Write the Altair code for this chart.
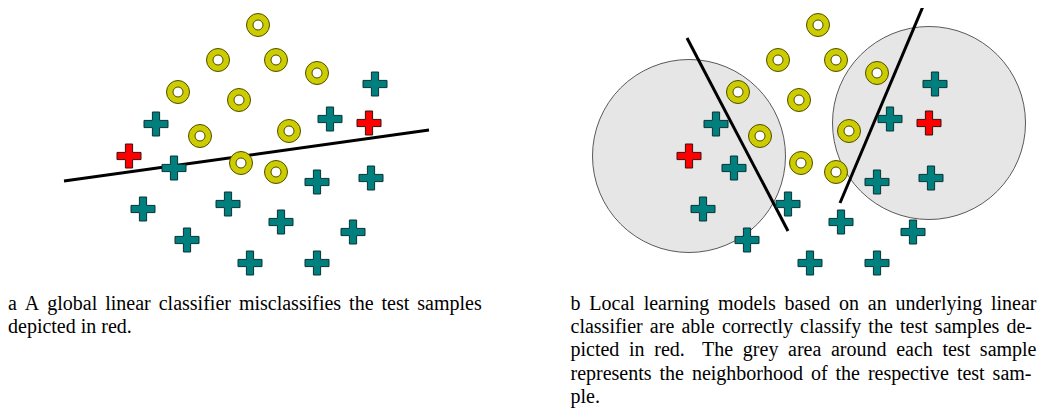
import altair as alt
import pandas as pd

# ---- data (panel a pixel frame) ----
ring_x = [258, 218, 276, 317, 178, 239, 200, 289, 241, 276]
ring_y = [25, 60, 60, 73, 92, 100, 136, 131, 163, 172]
plus_x = [375, 156, 330, 174, 317, 371, 143, 228, 281, 187, 353, 250, 317]
plus_y = [84, 124, 119, 168, 182, 178, 209, 204, 222, 240, 232, 263, 263]
test_x = [129, 369]
test_y = [156, 123]
panel_offset = {"a": 0, "b": 560}

# global linear classifier (panel a)
global_x = [64, 429]
global_y = [181, 130]
# local linear classifiers (panel b)
local_id = ["left", "left", "right", "right"]
local_x = [687, 788, 924, 840]
local_y = [38, 231, 4, 203]
neigh_radius = 96.5

caption_a = ["a A global linear classifier misclassifies the test samples",
             "depicted in red."]
caption_b = ["b Local learning models based on an underlying linear",
             "classifier are able correctly classify the test samples de-",
             "picted in red.  The grey area around each test sample",
             "represents the neighborhood of the respective test sam-",
             "ple."]

# ---- caption layout (justified like the typeset original) ----
FS = 20
CAP_FONT = "Liberation Serif"
TIMES = {" ": .25, ".": .25, "-": .333, "a": .444, "b": .5, "c": .444, "d": .5,
         "e": .444, "f": .333, "g": .5, "h": .5, "i": .278, "j": .278, "k": .5,
         "l": .278, "m": .778, "n": .5, "o": .5, "p": .5, "q": .5, "r": .333,
         "s": .389, "t": .278, "u": .5, "v": .5, "w": .722, "x": .5, "y": .5,
         "z": .444, "A": .722, "L": .611, "T": .611}


def text_w(s):
    return sum(TIMES.get(c, .5) for c in s) * FS


def layout(lines, left, rights, baselines, justify):
    rows = []
    for k, line in enumerate(lines):
        words = line.split()
        yb = baselines[k]
        if justify[k] and len(words) > 1:
            weights = [1.8 if w.endswith(".") else 1.0 for w in words[:-1]]
            natural = sum(text_w(w) for w in words)
            gap = (rights[k] - left - natural) / sum(weights)
        else:
            weights = [1.0] * (len(words) - 1)
            gap = text_w(" ")
        x = left
        for i, w in enumerate(words):
            last = justify[k] and i == len(words) - 1 and len(words) > 1
            rows.append(dict(t=w, x=rights[k] if last else x, y=yb,
                             side="right" if last else "left"))
            if i < len(words) - 1:
                x += text_w(w) + gap * weights[i]
    return rows


base = [309.7, 333.0, 356.3, 379.7, 403.0]
cap_rows = layout(caption_a, 8, [481.7, 0], base[:2], [True, False])
cap_rows += layout(caption_b, 570.5, [1036.5, 1032, 1036.5, 1031.5, 0], base,
                   [True, True, True, True, False])
caps = pd.DataFrame(cap_rows)

# ---- tables ----
rows = []
for p, off in panel_offset.items():
    for x, y in zip(ring_x, ring_y):
        rows.append(dict(panel=p, kind="ring", x=x + off, y=y))
    for x, y in zip(plus_x, plus_y):
        rows.append(dict(panel=p, kind="plus", x=x + off, y=y))
    for x, y in zip(test_x, test_y):
        rows.append(dict(panel=p, kind="test", x=x + off, y=y))
pts = pd.DataFrame(rows)
rings = pts[pts.kind == "ring"]
pluses = pts[pts.kind == "plus"]
tests = pts[pts.kind == "test"]
tests_b = tests[tests.panel == "b"]

lines = pd.DataFrame(
    [dict(id="global", x=x, y=y, o=i) for i, (x, y) in enumerate(zip(global_x, global_y))]
    + [dict(id=k, x=x, y=y, o=i) for i, (k, x, y) in enumerate(zip(local_id, local_x, local_y))]
)

W, H = 1029, 401
xs = alt.Scale(domain=[8, 8 + W], nice=False, zero=False)
ys = alt.Scale(domain=[8, 8 + H], nice=False, zero=False, reverse=True)
X = alt.X("x:Q", scale=xs, axis=None)
Y = alt.Y("y:Q", scale=ys, axis=None)

PLUS = "M-1,-0.3L-0.3,-0.3L-0.3,-1L0.3,-1L0.3,-0.3L1,-0.3L1,0.3L0.3,0.3L0.3,1L-0.3,1L-0.3,0.3L-1,0.3Z"

neigh = alt.Chart(tests_b).mark_point(
    shape="circle", filled=True, fill="#e6e6e6", fillOpacity=1,
    stroke="#5a5a5a", strokeWidth=1, opacity=1, size=(2 * neigh_radius) ** 2
).encode(x=X, y=Y)

line_layer = alt.Chart(lines).mark_line(color="black", strokeWidth=3).encode(
    x=X, y=Y, detail="id:N", order="o:Q")

ring_outer = alt.Chart(rings).mark_point(
    shape="circle", filled=True, fill="#cccc00", fillOpacity=1,
    stroke="#4d4d00", strokeWidth=1, opacity=1, size=23 * 23
).encode(x=X, y=Y)
ring_inner = alt.Chart(rings).mark_point(
    shape="circle", filled=True, fill="white", fillOpacity=1,
    stroke="#4d4d00", strokeWidth=1, opacity=1, size=10 * 10
).encode(x=X, y=Y)

plus_layer = alt.Chart(pluses).mark_point(
    shape=PLUS, filled=True, fill="#007f7f", fillOpacity=1,
    stroke="#0b3333", strokeWidth=1, opacity=1, size=24 * 24
).encode(x=X, y=Y)
test_layer = alt.Chart(tests).mark_point(
    shape=PLUS, filled=True, fill="#ff0000", fillOpacity=1,
    stroke="#3a1010", strokeWidth=1, opacity=1, size=24 * 24
).encode(x=X, y=Y)

cap_left = alt.Chart(caps[caps.side == "left"]).mark_text(
    align="left", baseline="alphabetic", font=CAP_FONT, fontSize=FS, color="black"
).encode(x=X, y=Y, text="t:N")
cap_right = alt.Chart(caps[caps.side == "right"]).mark_text(
    align="right", baseline="alphabetic", font=CAP_FONT, fontSize=FS, color="black"
).encode(x=X, y=Y, text="t:N")

chart = alt.layer(
    neigh, line_layer, ring_outer, ring_inner, plus_layer, test_layer, cap_left, cap_right
).properties(
    width=W, height=H, padding=0, autosize=alt.AutoSizeParams(type="none")
).configure_view(stroke=None)

chart.save("out.html", embed_options={"renderer": "svg", "actions": False})
